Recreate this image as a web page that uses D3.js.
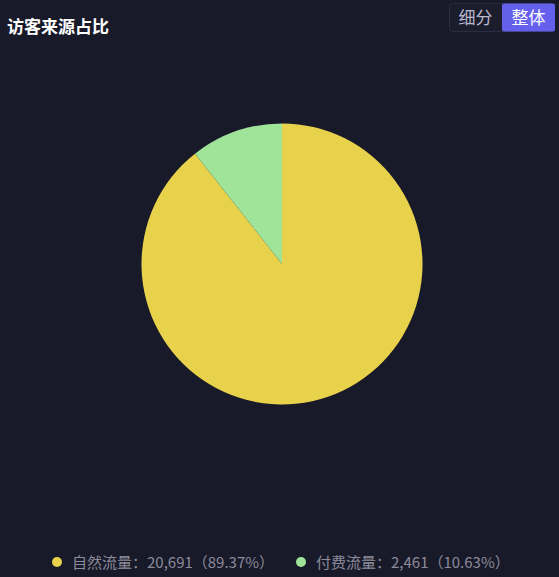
<!DOCTYPE html>
<html><head><meta charset="utf-8">
<script src="https://cdn.jsdelivr.net/npm/d3@7"></script>
<style>
html,body{margin:0;padding:0;background:#191a29;}
svg{display:block;}
</style></head>
<body>
<svg id="c" width="559" height="577"></svg>
<script>
const categories = ["自然流量", "付费流量"];
const values = [20691, 2461];
const percents = ["89.37%", "10.63%"];
const colors = ["#e8d24b", "#a0e49a"];
const buttons = ["细分", "整体"];

const svg = d3.select("#c");
const font = "'Noto Sans CJK SC','Noto Sans',sans-serif";
svg.append("rect").attr("width",559).attr("height",577).attr("fill","#191a29");

svg.append("text").attr("x",7).attr("y",33).attr("fill","#ffffff")
  .attr("font-family",font).attr("font-size",17).attr("font-weight","bold")
  .text("访客来源占比");

// buttons
const bx = d3.scaleBand().domain(buttons).range([449,555]);
const bg = svg.append("g");
bg.append("rect").attr("x",449.5).attr("y",3.5).attr("width",105).attr("height",28)
  .attr("rx",3).attr("fill","#1b1c2c").attr("stroke","#2c2d40");
buttons.forEach((b,i)=>{
  if(i===1){
    bg.append("rect").attr("x",bx(b)).attr("y",3.5).attr("width",bx.bandwidth()).attr("height",28)
      .attr("rx",2).attr("fill","#6560ec");
  }
  bg.append("text").attr("x",bx(b)+bx.bandwidth()/2).attr("y",24)
    .attr("text-anchor","middle").attr("font-family",font).attr("font-size",17)
    .attr("fill", i===1 ? "#ffffff" : "#b9b9d0").text(b);
});

// pie
const cx = 282, cy = 264, r = 140.5;
const pie = d3.pie().sort(null).value(d=>d)(values);
const arc = d3.arc().innerRadius(0).outerRadius(r);
svg.append("g").attr("transform",`translate(${cx},${cy})`)
  .selectAll("path").data(pie).join("path")
  .attr("d",arc).attr("fill",(d,i)=>colors[i]);

// legend
const fmt = d3.format(",");
const lx = [57, 301];
categories.forEach((c,i)=>{
  const g = svg.append("g");
  g.append("circle").attr("cx",lx[i]).attr("cy",562).attr("r",5).attr("fill",colors[i]);
  g.append("text").attr("x",lx[i]+15).attr("y",567.5)
    .attr("font-family",font).attr("font-size",15).attr("fill","#8b8b9a")
    .text(`${c}：${fmt(values[i])}（${percents[i]}）`);
});
</script>
</body></html>
